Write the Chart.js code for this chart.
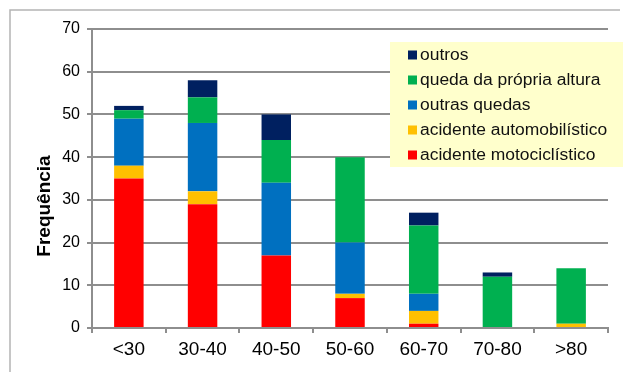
<!DOCTYPE html>
<html>
<head>
<meta charset="utf-8">
<script src="https://cdn.jsdelivr.net/npm/chart.js@4/dist/chart.umd.min.js"></script>
<style>
  html, body { margin: 0; padding: 0; background: #ffffff; }
  #wrap { width: 630px; height: 372px; position: relative; }
</style>
</head>
<body>
<div id="wrap"><canvas id="c" width="630" height="372"></canvas></div>
<script>
// Faixas etárias (anos)
const categories = ['<30', '30-40', '40-50', '50-60', '60-70', '70-80', '>80'];

// Frequência por causa do trauma
const acidenteMotociclistico = [35, 29, 17, 7, 1, 0, 0];
const acidenteAutomobilistico = [3, 3, 0, 1, 3, 0, 1];
const outrasQuedas = [11, 16, 17, 12, 4, 0, 0];
const quedaPropriaAltura = [2, 6, 10, 20, 16, 12, 13];
const outros = [1, 4, 6, 0, 3, 1, 0];

const yTicks = [0, 10, 20, 30, 40, 50, 60, 70];
const axisTitle = 'Frequência';

const FONT = '"Liberation Sans", Arial, sans-serif';
const GRID = '#8e8e8e';

const series = [
  { label: 'acidente motociclístico', data: acidenteMotociclistico, color: '#FF0000' },
  { label: 'acidente automobilístico', data: acidenteAutomobilistico, color: '#FFC000' },
  { label: 'outras quedas', data: outrasQuedas, color: '#0070C0' },
  { label: 'queda da própria altura', data: quedaPropriaAltura, color: '#00B050' },
  { label: 'outros', data: outros, color: '#002060' }
];

// Frame, vertical axis title and boxed legend
const decor = {
  id: 'decor',
  beforeDraw(chart) {
    const ctx = chart.ctx;
    ctx.save();
    ctx.strokeStyle = '#b4b4b4';
    ctx.lineWidth = 1.5;
    ctx.beginPath();
    ctx.moveTo(10, 372);
    ctx.lineTo(10, 10);
    ctx.lineTo(620, 10);
    ctx.stroke();

    ctx.translate(45, 206);
    ctx.rotate(-Math.PI / 2);
    ctx.fillStyle = '#000';
    ctx.font = 'bold 19px ' + FONT;
    ctx.textAlign = 'center';
    ctx.textBaseline = 'middle';
    ctx.fillText(axisTitle, 0, 0);
    ctx.restore();
  },
  afterDraw(chart) {
    const ctx = chart.ctx;
    ctx.save();
    ctx.fillStyle = '#FFFFCC';
    ctx.fillRect(390, 42, 233, 125);
    const items = chart.data.datasets.slice().reverse();
    ctx.font = '16px ' + FONT;
    ctx.textBaseline = 'middle';
    ctx.textAlign = 'left';
    items.forEach((ds, i) => {
      const y = 55 + i * 25;
      ctx.fillStyle = ds.backgroundColor;
      ctx.fillRect(408, y - 4.5, 9, 9);
      ctx.save();
      ctx.translate(420, y + 0.5);
      ctx.scale(1.09, 1);
      ctx.fillStyle = '#111';
      ctx.fillText(ds.label, 0, 0);
      ctx.restore();
    });
    ctx.restore();
  }
};

new Chart(document.getElementById('c'), {
  type: 'bar',
  data: {
    labels: categories,
    datasets: series.map(s => ({
      label: s.label,
      data: s.data,
      backgroundColor: s.color,
      borderWidth: 0,
      barPercentage: 0.4,
      categoryPercentage: 1.0
    }))
  },
  options: {
    responsive: false,
    animation: false,
    devicePixelRatio: 1,
    layout: { padding: { left: 0, right: 22, top: 29, bottom: 0 } },
    plugins: { legend: { display: false }, tooltip: { enabled: false } },
    scales: {
      x: {
        stacked: true,
        afterFit(scale) { scale.height = 44; },
        grid: { display: true, drawOnChartArea: false, offset: true, tickLength: 5, color: GRID, lineWidth: 2 },
        border: { display: true, color: GRID, width: 2 },
        ticks: { color: '#000', font: { family: FONT, size: 19 }, padding: 5 }
      },
      y: {
        stacked: true,
        min: 0,
        max: 70,
        afterFit(scale) { scale.width = 92; },
        afterBuildTicks(scale) { scale.ticks = yTicks.map(v => ({ value: v })); },
        grid: { color: GRID, lineWidth: 2, tickLength: 5 },
        border: { display: true, color: GRID, width: 2 },
        ticks: { color: '#000', font: { family: FONT, size: 16 }, padding: 7 }
      }
    }
  },
  plugins: [decor]
});
</script>
</body>
</html>
